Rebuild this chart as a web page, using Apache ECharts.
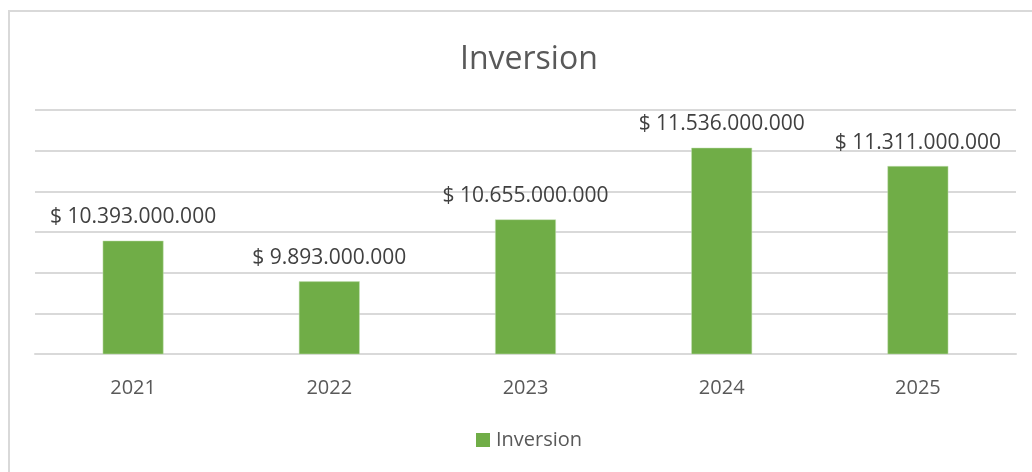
<!DOCTYPE html>
<html>
<head>
<meta charset="utf-8">
<script src="https://cdn.jsdelivr.net/npm/echarts@6/dist/echarts.min.js"></script>
<style>
  html, body { margin: 0; padding: 0; background: #fff; }
  .frame {
    position: absolute; left: 8px; top: 10px; width: 1040px; height: 480px;
    border: 2px solid #d9d9d9; box-sizing: border-box;
  }
  #chart { position: absolute; left: 0; top: 0; width: 1032px; height: 472px; }
</style>
</head>
<body>
<div class="frame"></div>
<div id="chart"></div>
<script>
const years = ['2021', '2022', '2023', '2024', '2025']
const inversion = [10393000000, 9893000000, 10655000000, 11536000000, 11311000000]
const seriesName = 'Inversion'

function money(v) {
  return '$ ' + String(v).replace(/\B(?=(\d{3})+(?!\d))/g, '.')
}

const chart = echarts.init(document.getElementById('chart'), null, { renderer: 'canvas' })
chart.setOption({
  animation: false,
  textStyle: { fontFamily: 'Open Sans' },
  title: {
    text: 'Inversion',
    left: 455,
    top: 39,
    textStyle: { color: '#595959', fontSize: 32, fontWeight: 'normal', fontFamily: 'Open Sans' }
  },
  legend: {
    bottom: 17,
    left: 471,
    itemWidth: 14,
    itemHeight: 14,
    itemGap: 6,
    icon: 'rect',
    itemStyle: { borderWidth: 0 },
    textStyle: { color: '#595959', fontSize: 20, fontFamily: 'Open Sans', padding: [0, 0, 0, 1] },
    data: [seriesName]
  },
  grid: { left: 35, right: 16, top: 110, bottom: 118 },
  xAxis: {
    type: 'category',
    data: years,
    axisLine: { lineStyle: { color: '#d9d9d9', width: 2 } },
    axisTick: { show: false },
    axisLabel: { color: '#595959', fontSize: 20, margin: 24 }
  },
  yAxis: {
    type: 'value',
    min: 9000000000,
    max: 12000000000,
    interval: 500000000,
    axisLabel: { show: false },
    axisLine: { show: false },
    axisTick: { show: false },
    splitLine: { lineStyle: { color: '#d9d9d9', width: 2 } }
  },
  series: [{
    name: seriesName,
    type: 'bar',
    data: inversion,
    barWidth: '31%',
    itemStyle: { color: '#70ad47', borderColor: '#c5e0b4', borderWidth: 0.5 },
    label: {
      show: true,
      position: 'top',
      distance: 13,
      color: '#404040',
      fontSize: 21,
      fontFamily: 'Open Sans',
      formatter: p => money(p.value)
    }
  }]
})
</script>
</body>
</html>
